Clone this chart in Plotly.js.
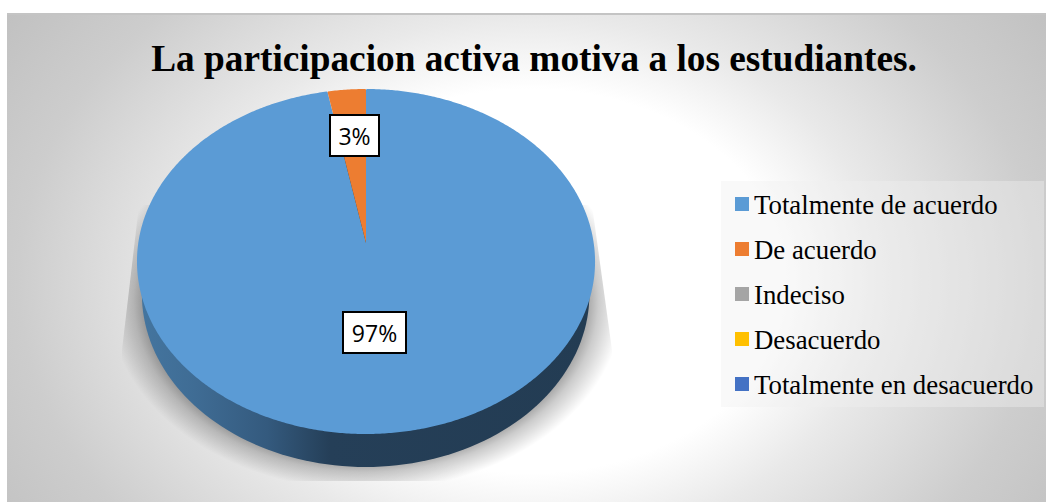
<!DOCTYPE html>
<html>
<head>
<meta charset="utf-8">
<script src="https://cdn.plot.ly/plotly-3.0.1.min.js"></script>
<style>
html, body { margin: 0; padding: 0; background: #fff; }
#page { position: relative; width: 1046px; height: 502px; overflow: hidden; }
#panel {
    position: absolute; left: 7px; top: 13px; width: 1039px; height: 489px;
    border-top: 2px solid #c4c4c4; box-sizing: border-box;
    background: radial-gradient(ellipse 640px 480px at 523px 266px, #ffffff 0%, #ffffff 40%, #e9e9e9 55%, #cdcdcd 80%, #c0c0c0 100%);
}
#shadow {
    position: absolute; left: 118px; top: 200px; width: 496px; height: 281px;
    clip-path: polygon(21px 5px, 474px 5px, 494px 150px, 494px 281px, 4px 281px, 4px 150px);
    background: radial-gradient(ellipse 250px 185px at 248px 100px, rgba(0,0,0,0.36) 88%, rgba(0,0,0,0.2) 93%, rgba(0,0,0,0) 103%);
}
#chart { position: absolute; left: 0; top: 0; width: 1046px; height: 502px; }
</style>
</head>
<body>
<div id="page">
    <div id="panel"></div>
    <div id="shadow"></div>
    <div id="chart"></div>
</div>
<script>
const categories = ['Totalmente de acuerdo', 'De acuerdo', 'Indeciso', 'Desacuerdo', 'Totalmente en desacuerdo'];
const percentages = [97, 3, 0, 0, 0];
const sliceColors = ['#5b9bd5', '#ed7d31', '#a5a5a5', '#ffc000', '#4472c4'];
const chartTitle = 'La participacion activa motiva a los estudiantes.';

const W = 1046;
const H = 502;

// where the tilted disc sits on the page
const discX = 366;
const discApexY = 243;
const discWidth = 227.7;
const tiltA = 170.5;
const tiltK = 0.1072;

// side wall of the disc, drawn as an ellipse under the face
const wallX = [];
const wallY = [];
for (let i = 0; i <= 180; i++) {
    const a = i / 180 * 2 * Math.PI;
    wallX.push(discX + 224 * Math.cos(a));
    wallY.push(294 + 173 * Math.sin(a));
}

const wallTrace = {
    type: 'scatter',
    mode: 'none',
    x: wallX,
    y: wallY,
    fill: 'toself',
    fillgradient: {
        type: 'horizontal',
        colorscale: [[0, '#44759f'], [0.12, '#3f6c94'], [0.28, '#345a7e'], [0.42, '#253f58'], [1, '#233c53']]
    },
    showlegend: false,
    hoverinfo: 'skip'
};

const pieTrace = {
    type: 'pie',
    labels: categories,
    values: percentages,
    sort: false,
    direction: 'clockwise',
    rotation: 0,
    textinfo: 'none',
    marker: { colors: sliceColors, line: { width: 0 } },
    domain: { x: [137 / W, 595 / W], y: [12 / H, 470 / H] }
};

const labelBox = (value, x, y, width) => ({
    text: value + '%',
    xref: 'x', yref: 'y', x: x, y: y,
    showarrow: false,
    width: width, height: 39,
    bgcolor: '#ffffff',
    bordercolor: '#000000',
    borderwidth: 2,
    borderpad: 0,
    font: { family: '"Open Sans", sans-serif', size: 23, color: '#000000' }
});

const layout = {
    width: W,
    height: H,
    margin: { t: 0, b: 0, l: 0, r: 0 },
    paper_bgcolor: 'rgba(0,0,0,0)',
    plot_bgcolor: 'rgba(0,0,0,0)',
    title: {
        text: '<b>' + chartTitle + '</b>',
        x: 534 / W, xanchor: 'center',
        y: 1 - 58 / H, yanchor: 'middle',
        font: { family: '"Liberation Serif", serif', size: 37.3, color: '#000000' }
    },
    xaxis: { range: [0, W], visible: false, fixedrange: true },
    yaxis: { range: [H, 0], visible: false, fixedrange: true },
    legend: {
        x: 722 / W, xanchor: 'left',
        y: 1 - 181 / H, yanchor: 'top',
        bgcolor: 'rgba(240,240,240,0.4)',
        font: { family: '"Liberation Serif", serif', size: 26.8, color: '#000000' }
    },
    annotations: [
        labelBox(percentages[0], 374.5, 332.5, 61),
        labelBox(percentages[1], 354.5, 135.5, 47)
    ]
};

Plotly.newPlot('chart', [wallTrace, pieTrace], layout, { displayModeBar: false }).then(gd => {
    const pie = gd.calcdata[1][0];

    // Plotly pies are always round: push each slice outline through the tilt
    gd.querySelectorAll('.pielayer .slice path.surface').forEach(path => {
        const len = path.getTotalLength();
        const steps = Math.ceil(len / 2);
        let d = '';
        for (let i = 0; i <= steps; i++) {
            const p = path.getPointAtLength(len * i / steps);
            const u = (p.x - pie.cx) / pie.r;
            const v = -(p.y - pie.cy) / pie.r;
            const w = 1 + tiltK * v;
            d += (i ? 'L' : 'M') + (discX + discWidth * u / w) + ',' + (discApexY - tiltA * v / w);
        }
        path.setAttribute('d', d + 'Z');
    });

    // legend spacing and swatch size follow the original, Plotly has no option for them
    const legend = gd.querySelector('.legend');
    legend.querySelector('.scrollbox').removeAttribute('clip-path');
    const bg = legend.querySelector('.bg');
    bg.setAttribute('width', 323);
    bg.setAttribute('height', 226);
    legend.querySelectorAll('.traces').forEach((item, i) => {
        item.setAttribute('transform', 'translate(0,' + (23 + i * 45) + ')');
        item.querySelector('.legendtext').setAttribute('x', 33);
        item.querySelector('.legendpoints path').setAttribute('d', 'M8,7H-6V-7H8Z');
    });
});
</script>
</body>
</html>
